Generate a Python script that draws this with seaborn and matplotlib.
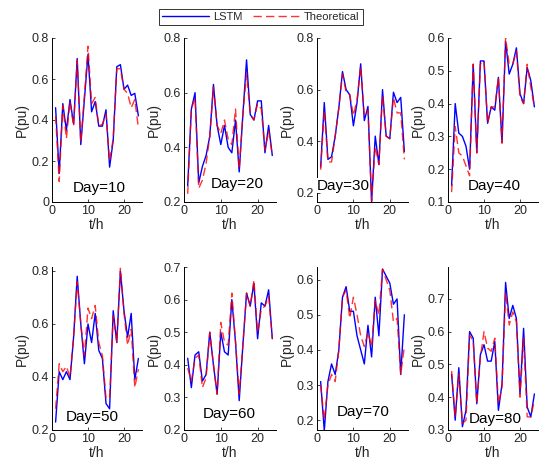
import numpy as np
import pandas as pd
import matplotlib
matplotlib.use("Agg")
import matplotlib.pyplot as plt
import matplotlib.transforms as mtransforms
import seaborn as sns

hours = list(range(1, 25))
days = [10, 20, 30, 40, 50, 60, 70, 80]

lstm_d10 = [0.46,0.14,0.48,0.35,0.50,0.38,0.70,0.28,0.50,0.72,0.44,0.49,0.37,0.37,0.45,0.17,0.30,0.66,0.67,0.55,0.57,0.52,0.53,0.42]
theo_d10 = [0.42,0.10,0.47,0.31,0.49,0.37,0.69,0.29,0.52,0.76,0.48,0.51,0.37,0.38,0.43,0.20,0.31,0.65,0.65,0.55,0.53,0.46,0.50,0.36]

lstm_d20 = [0.26,0.54,0.60,0.27,0.33,0.37,0.44,0.63,0.48,0.41,0.48,0.40,0.38,0.50,0.31,0.52,0.72,0.52,0.50,0.57,0.57,0.38,0.48,0.37]
theo_d20 = [0.23,0.54,0.58,0.25,0.28,0.34,0.44,0.62,0.48,0.45,0.50,0.43,0.41,0.54,0.32,0.52,0.67,0.52,0.50,0.56,0.54,0.39,0.46,0.37]

lstm_d30 = [0.30,0.55,0.33,0.34,0.42,0.53,0.67,0.60,0.58,0.46,0.55,0.70,0.48,0.535,0.165,0.42,0.31,0.60,0.42,0.41,0.59,0.55,0.57,0.36]
theo_d30 = [0.29,0.52,0.32,0.32,0.42,0.53,0.66,0.59,0.58,0.50,0.56,0.69,0.50,0.52,0.17,0.38,0.31,0.58,0.42,0.41,0.57,0.51,0.51,0.33]

lstm_d40 = [0.15,0.40,0.31,0.30,0.27,0.20,0.52,0.25,0.53,0.53,0.34,0.39,0.38,0.48,0.28,0.59,0.49,0.52,0.57,0.43,0.40,0.51,0.47,0.39]
theo_d40 = [0.13,0.33,0.25,0.24,0.21,0.18,0.52,0.25,0.52,0.53,0.34,0.39,0.39,0.48,0.28,0.60,0.52,0.52,0.56,0.42,0.40,0.52,0.45,0.39]

lstm_d50 = [0.23,0.42,0.39,0.42,0.39,0.55,0.78,0.60,0.45,0.60,0.53,0.64,0.50,0.47,0.30,0.28,0.65,0.53,0.80,0.65,0.55,0.64,0.39,0.47]
theo_d50 = [0.28,0.45,0.42,0.44,0.40,0.55,0.76,0.60,0.48,0.66,0.62,0.67,0.53,0.48,0.32,0.32,0.63,0.53,0.81,0.64,0.52,0.58,0.36,0.43]

lstm_d60 = [0.42,0.33,0.43,0.44,0.35,0.37,0.50,0.40,0.31,0.50,0.44,0.43,0.60,0.47,0.29,0.46,0.62,0.58,0.65,0.48,0.59,0.58,0.63,0.48]
theo_d60 = [0.39,0.35,0.42,0.43,0.33,0.36,0.50,0.40,0.31,0.53,0.47,0.46,0.62,0.47,0.31,0.46,0.62,0.58,0.66,0.50,0.57,0.58,0.61,0.48]

lstm_d70 = [0.31,0.17,0.31,0.36,0.33,0.40,0.55,0.58,0.51,0.51,0.44,0.40,0.36,0.47,0.38,0.55,0.44,0.63,0.61,0.59,0.53,0.545,0.33,0.50]
theo_d70 = [0.30,0.20,0.30,0.33,0.31,0.40,0.55,0.57,0.49,0.55,0.50,0.44,0.41,0.45,0.41,0.54,0.50,0.63,0.60,0.57,0.48,0.49,0.33,0.41]

lstm_d80 = [0.47,0.33,0.49,0.31,0.36,0.60,0.58,0.38,0.53,0.56,0.51,0.51,0.57,0.36,0.44,0.75,0.64,0.68,0.64,0.41,0.61,0.37,0.34,0.41]
theo_d80 = [0.48,0.34,0.47,0.32,0.33,0.59,0.57,0.38,0.52,0.60,0.55,0.54,0.58,0.38,0.43,0.72,0.62,0.66,0.63,0.40,0.58,0.34,0.34,0.39]

lstm_all = [lstm_d10, lstm_d20, lstm_d30, lstm_d40, lstm_d50, lstm_d60, lstm_d70, lstm_d80]
theo_all = [theo_d10, theo_d20, theo_d30, theo_d40, theo_d50, theo_d60, theo_d70, theo_d80]

ylims = [(0, 0.8), (0.2, 0.8), (0.165, 0.8), (0.1, 0.6),
         (0.2, 0.815), (0.2, 0.7), (0.172, 0.636), (0.3, 0.797)]
yticks = [[0, 0.2, 0.4, 0.6, 0.8], [0.2, 0.4, 0.6, 0.8], [0.2, 0.4, 0.6, 0.8],
          [0.1, 0.2, 0.3, 0.4, 0.5, 0.6], [0.2, 0.4, 0.6, 0.8],
          [0.2, 0.3, 0.4, 0.5, 0.6, 0.7], [0.2, 0.3, 0.4, 0.5, 0.6],
          [0.3, 0.4, 0.5, 0.6, 0.7]]
label_pos = [(13.1, 0.085), (14.6, 0.11), (7.1, 0.10), (12.9, 0.10),
             (11.1, 0.08), (12.2, 0.10), (12.6, 0.11), (13.2, 0.07)]

sns.set_style("ticks")
plt.rcParams['font.family'] = ['Liberation Sans', 'DejaVu Sans']
txt = '#262626'

W, H = 539, 466
fig = plt.figure(figsize=(W / 100, H / 100), dpi=100)

col_px = [(52, 90), (184, 92), (317, 91), (448, 90)]
row_px = [(38, 202), (267, 430)]

handles = None
for i, day in enumerate(days):
    r, c = divmod(i, 4)
    x0, w = col_px[c]
    top, bot = row_px[r]
    ax = fig.add_axes([x0 / W, 1 - bot / H, w / W, (bot - top) / H])
    df = pd.DataFrame({"t": hours, "LSTM": lstm_all[i], "Theoretical": theo_all[i]})
    sns.lineplot(data=df, x="t", y="LSTM", ax=ax, color=(0, 0, 1), lw=1.0, label="LSTM")
    sns.lineplot(data=df, x="t", y="Theoretical", ax=ax, color=(1, 0, 0), lw=1.0,
                 linestyle=(0, (6, 3)), alpha=0.8, label="Theoretical")
    ax.set_xlim(0, 25)
    ax.set_ylim(*ylims[i])
    ax.set_xticks([0, 10, 20])
    ax.set_yticks(yticks[i])
    ax.set_yticklabels([f"{v:g}" for v in yticks[i]])
    ax.set_xlabel("t/h", fontsize=10, color=txt, labelpad=1)
    ax.set_ylabel("P(pu)", fontsize=10, color=txt, labelpad=2)
    ax.tick_params(direction='in', length=2.5, width=0.6, labelsize=9, colors=txt, pad=2)
    for s in ['top', 'right']:
        ax.spines[s].set_visible(False)
    for s in ['left', 'bottom']:
        ax.spines[s].set_linewidth(0.7)
        ax.spines[s].set_color('black')
    tr = mtransforms.blended_transform_factory(ax.transData, ax.transAxes)
    lx, ly = label_pos[i]
    ax.text(lx, ly, f"Day={day}", transform=tr, ha='center', va='center',
            fontsize=11, color='black',
            bbox=dict(facecolor='white', edgecolor='none', pad=0.3))
    if handles is None:
        handles, labels = ax.get_legend_handles_labels()
    ax.get_legend().remove()

leg = fig.legend(handles, labels, loc='center', ncol=2,
                 bbox_to_anchor=(261 / W, 1 - 17 / H), fontsize=8,
                 frameon=True, fancybox=False, handlelength=4.2,
                 columnspacing=0.9, handletextpad=0.4, borderpad=0.3)
leg.get_frame().set_edgecolor('black')
leg.get_frame().set_linewidth(0.7)

fig.savefig("out.png", dpi=100)
